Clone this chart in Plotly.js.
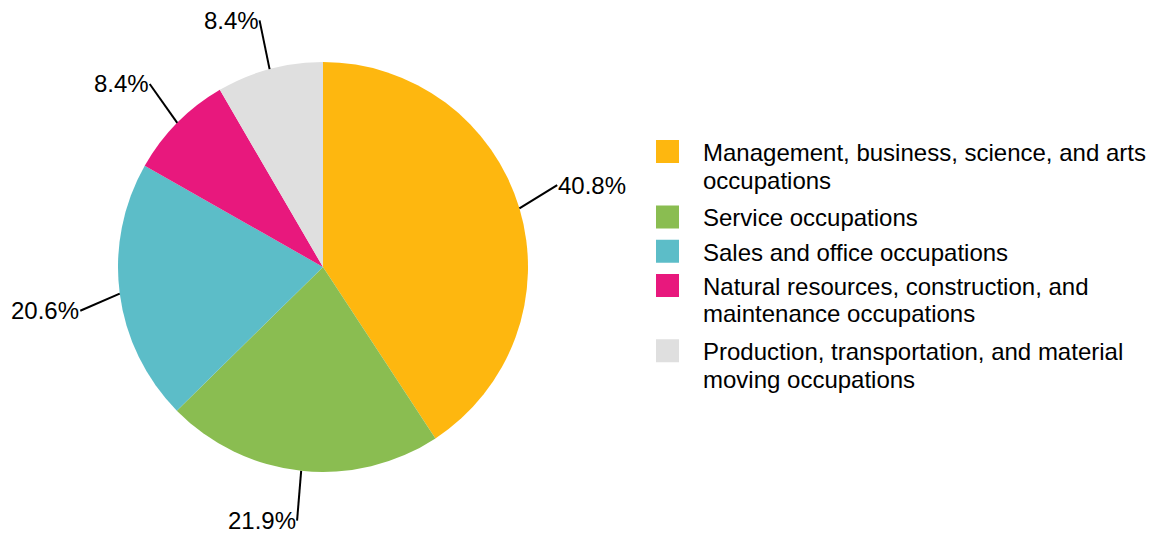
<!DOCTYPE html>
<html>
<head>
<meta charset="utf-8">
<script src="https://cdn.plot.ly/plotly-3.0.1.min.js"></script>
<style>html,body{margin:0;padding:0;background:#fff;}#chart{width:1167px;height:534px;}</style>
</head>
<body>
<div id="chart"></div>
<script>
// ---- data ----
const categories = [
  "Management, business, science, and arts<br>occupations",
  "Service occupations",
  "Sales and office occupations",
  "Natural resources, construction, and<br>maintenance occupations",
  "Production, transportation, and material<br>moving occupations"
];
const shares = [40.8, 21.9, 20.6, 8.4, 8.4];
const sliceColors = ["#FEB70F", "#8ABD51", "#5CBDC8", "#E8187D", "#DFDFDF"];

// ---- layout constants ----
const W = 1167, H = 534;
const CX = 323, CY = 267, R = 205;   // pie centre / radius in px
const FONT = "Liberation Sans, Arial, sans-serif";
const FS = 24;

const total = shares.reduce((a, b) => a + b, 0);
const shapes = [], annotations = [];
let cum = 0;
shares.forEach((v, i) => {
  const mid = (cum + v / 2) / total * 2 * Math.PI; // clockwise from 12 o'clock
  cum += v;
  const s = Math.sin(mid), c = Math.cos(mid);
  const x0 = CX + R * s, y0 = CY - R * c;
  // leader direction: radial, biased vertically away from centre
  let dx = s, dy = -c - 0.3 * Math.sign(c);
  const n = Math.hypot(dx, dy);
  const L = 42 + 8 * Math.abs(c);
  dx = dx / n * L; dy = dy / n * L;
  const x1 = x0 + dx, y1 = y0 + dy;
  shapes.push({type: "line", xref: "paper", yref: "paper",
    x0: x0 / W, y0: 1 - y0 / H, x1: x1 / W, y1: 1 - y1 / H,
    line: {color: "#000", width: 2}});
  annotations.push({xref: "paper", yref: "paper", showarrow: false,
    x: x1 / W, y: 1 - y1 / H,
    xanchor: s >= 0 ? "left" : "right", yanchor: "middle",
    borderpad: 0,
    text: v.toFixed(1) + "%",
    font: {family: FONT, size: FS, color: "#000"}});
});

const trace = {
  type: "pie",
  labels: categories,
  values: shares,
  sort: false,
  direction: "clockwise",
  rotation: 0,
  textinfo: "none",
  hoverinfo: "label+percent",
  marker: {colors: sliceColors, line: {width: 0}},
  domain: {x: [(CX - R) / W, (CX + R) / W], y: [(H - CY - R) / H, (H - CY + R) / H]}
};

const layout = {
  width: W, height: H,
  margin: {l: 0, r: 0, t: 0, b: 0, autoexpand: false},
  paper_bgcolor: "#fff",
  font: {family: FONT, size: FS, color: "#000"},
  showlegend: true,
  legend: {x: 632 / W, xanchor: "left", y: 0.5, yanchor: "middle",
    itemwidth: 61, valign: "top", font: {family: FONT, size: FS, color: "#000"},
    bgcolor: "rgba(0,0,0,0)", itemclick: false, itemdoubleclick: false},
  shapes: shapes,
  annotations: annotations
};

Plotly.newPlot("chart", [trace], layout, {displayModeBar: false, staticPlot: true}).then(gd => {
  gd.querySelectorAll(".legendpoints path").forEach(p => {
    p.setAttribute("d", "M11.5,11.5H-11.5V-11.5H11.5Z");
  });
  gd.querySelectorAll(".legendtext tspan.line").forEach(t => {
    const d = t.getAttribute("dy");
    if (d && d.endsWith("em")) {
      const v = parseFloat(d);
      if (v > 0) t.setAttribute("dy", (v * 1.15 / 1.3) + "em");
    }
  });
});
</script>
</body>
</html>
